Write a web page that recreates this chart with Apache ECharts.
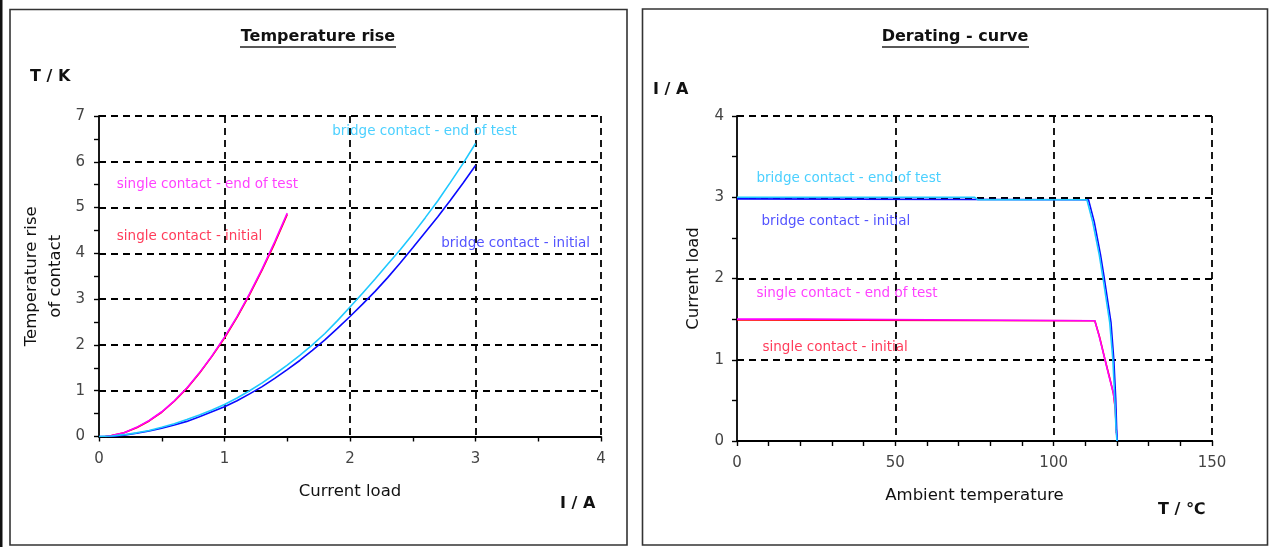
<!DOCTYPE html>
<html>
<head>
<meta charset="utf-8">
<script src="https://cdn.jsdelivr.net/npm/echarts@6/dist/echarts.min.js"></script>
<style>
html,body{margin:0;padding:0;background:#fff;}
#c{width:1271px;height:547px;}
</style>
</head>
<body>
<div id="c"></div>
<script>
// ---------- Data: Temperature rise (x: current I/A, y: temperature rise T/K) ----------
const riseSingleInitial = [[0.05,0],[0.1,0.02],[0.2,0.08],[0.3,0.19],[0.4,0.34],[0.5,0.53],[0.6,0.77],[0.7,1.05],[0.8,1.38],[0.9,1.75],[1.0,2.15],[1.1,2.60],[1.2,3.10],[1.3,3.64],[1.4,4.22],[1.5,4.85]];
const riseSingleEnd = [[0.05,0],[0.1,0.02],[0.2,0.08],[0.3,0.2],[0.4,0.35],[0.5,0.54],[0.6,0.78],[0.7,1.06],[0.8,1.39],[0.9,1.76],[1.0,2.17],[1.1,2.62],[1.2,3.12],[1.3,3.66],[1.4,4.25],[1.5,4.88]];
const riseBridgeInitial = [[0,0],[0.1,0],[0.2,0.03],[0.3,0.07],[0.4,0.12],[0.5,0.18],[0.6,0.25],[0.7,0.33],[0.8,0.43],[0.9,0.54],[1.0,0.65],[1.1,0.78],[1.2,0.93],[1.3,1.09],[1.4,1.27],[1.5,1.46],[1.6,1.66],[1.7,1.88],[1.8,2.11],[1.9,2.36],[2.0,2.62],[2.1,2.89],[2.2,3.17],[2.3,3.47],[2.4,3.79],[2.5,4.12],[2.6,4.46],[2.7,4.8],[2.8,5.16],[2.9,5.53],[3.0,5.92]];
const riseBridgeEnd = [[0,0],[0.1,0.01],[0.2,0.04],[0.3,0.08],[0.4,0.13],[0.5,0.2],[0.6,0.28],[0.7,0.37],[0.8,0.47],[0.9,0.58],[1.0,0.7],[1.1,0.84],[1.2,1.0],[1.3,1.17],[1.4,1.36],[1.5,1.56],[1.6,1.77],[1.7,2.0],[1.8,2.25],[1.9,2.53],[2.0,2.83],[2.1,3.13],[2.2,3.44],[2.3,3.76],[2.4,4.08],[2.5,4.42],[2.6,4.78],[2.7,5.15],[2.8,5.55],[2.9,5.96],[3.0,6.4]];

// ---------- Data: Derating curve (x: ambient temperature T/°C, y: current I/A) ----------
const derBridgeInitial = [[0,2.98],[111,2.97],[112.8,2.7],[114.8,2.29],[116,2.0],[118.1,1.46],[119,1.0],[119.6,0.52],[119.9,0.14],[120.1,0]];
const derBridgeEnd = [[0,3.0],[75,3.0],[76,2.97],[110.5,2.97],[112.3,2.7],[114.4,2.29],[115.6,2.0],[117.7,1.46],[118.7,1.0],[119.3,0.52],[119.7,0.14],[120,0]];
const derSingleInitial = [[0,1.49],[113,1.48],[114.5,1.28],[116.1,1.02],[117.6,0.79],[118.9,0.58],[119.5,0.38],[119.8,0.1]];
const derSingleEnd = [[0,1.5],[21,1.5],[21.5,1.48],[113,1.48],[114.3,1.30],[115.9,1.05],[117.4,0.81],[118.8,0.60],[119.5,0.40],[119.8,0.1],[120,0.05]];

// ---------- Texts ----------
const titles = ['Temperature rise', 'Derating - curve'];
const seriesNames = ['single contact - initial', 'single contact - end of test', 'bridge contact - initial', 'bridge contact - end of test'];
// annotation anchors in data units: [name, x, y]
const riseNotes = [['single contact - end of test',0.146,5.49],['single contact - initial',0.146,4.36],['bridge contact - end of test',1.862,6.64],['bridge contact - initial',2.731,4.20]];
const derNotes = [['bridge contact - end of test',6.3,3.23],['bridge contact - initial',7.9,2.69],['single contact - end of test',6.3,1.81],['single contact - initial',8.2,1.15]];

const lineColors = {'single contact - initial':'#ff0000','single contact - end of test':'#ff00ff','bridge contact - initial':'#0a0aff','bridge contact - end of test':'#1ec8ff'};
const textColors = {'single contact - initial':'#ff0a30','single contact - end of test':'#ff10ff','bridge contact - initial':'#2828ff','bridge contact - end of test':'#1ec4ff'};

const FONT = 'DejaVu Sans';
const chart = echarts.init(document.getElementById('c'), null, {renderer:'canvas'});

function valueAxis(gridIndex, min, max, interval, minorSplit, extra){
  return Object.assign({
    type:'value', gridIndex, min, max, interval,
    axisLine:{show:true, onZero:false, lineStyle:{color:'#000', width:1.8}},
    axisTick:{show:true, length:5, lineStyle:{color:'#000', width:1.4}},
    minorTick:{show:true, splitNumber:minorSplit, length:5, lineStyle:{color:'#000', width:1.4}},
    splitLine:{show:true, showMinLine:false, lineStyle:{color:'#000', width:1.8, type:[7,5]}},
    axisLabel:{color:'#444', fontSize:15, fontFamily:FONT},
    nameTextStyle:{color:'#111', fontSize:16.5, fontFamily:FONT}
  }, extra);
}

function lineSeries(name, data, xi){
  return {type:'line', name, data, xAxisIndex:xi, yAxisIndex:xi, showSymbol:false, symbol:'none',
    lineStyle:{color:lineColors[name], width:1.6}, itemStyle:{color:lineColors[name]}, silent:true, z:3};
}
function noteSeries(notes, xi){
  return {type:'scatter', xAxisIndex:xi, yAxisIndex:xi, symbolSize:1, silent:true, z:5,
    itemStyle:{color:'transparent'},
    data: notes.map(n => ({value:[n[1], n[2]], label:{show:true, formatter:n[0], position:[0,0], align:'left', verticalAlign:'middle', color:textColors[n[0]], fontSize:13.5, fontFamily:FONT}}))};
}

const option = {
  animation:false,
  backgroundColor:'#fff',
  textStyle:{fontFamily:FONT},
  grid:[
    {left:99, top:116, width:502, height:320.5},
    {left:737, top:116, width:475, height:325}
  ],
  xAxis:[
    valueAxis(0, 0, 4, 1, 2, {axisLabel:{color:'#444', fontSize:15, fontFamily:FONT, margin:15}, name:'Current load', nameLocation:'middle', nameGap:47}),
    valueAxis(1, 0, 150, 50, 5, {axisLabel:{color:'#444', fontSize:15, fontFamily:FONT, margin:15}, name:'Ambient temperature', nameLocation:'middle', nameGap:46})
  ],
  yAxis:[
    valueAxis(0, 0, 7, 1, 2, {axisLabel:{color:'#444', fontSize:15, fontFamily:FONT, margin:14}, name:'Temperature rise\nof contact', nameLocation:'middle', nameGap:31, nameTextStyle:{color:'#111', fontSize:16.5, fontFamily:FONT, lineHeight:24}}),
    valueAxis(1, 0, 4, 1, 2, {axisLabel:{color:'#444', fontSize:15, fontFamily:FONT, margin:13}, name:'Current load', nameLocation:'middle', nameGap:33, nameTextStyle:{color:'#111', fontSize:16.5, fontFamily:FONT, lineHeight:20}})
  ],
  series:[
    lineSeries(seriesNames[0], riseSingleInitial, 0),
    lineSeries(seriesNames[1], riseSingleEnd, 0),
    lineSeries(seriesNames[2], riseBridgeInitial, 0),
    lineSeries(seriesNames[3], riseBridgeEnd, 0),
    lineSeries(seriesNames[0], derSingleInitial, 1),
    lineSeries(seriesNames[1], derSingleEnd, 1),
    lineSeries(seriesNames[2], derBridgeInitial, 1),
    lineSeries(seriesNames[3], derBridgeEnd, 1),
    noteSeries(riseNotes, 0),
    noteSeries(derNotes, 1)
  ],
  graphic:[
    {type:'rect', shape:{x:0, y:0, width:2.5, height:547}, style:{fill:'#111'}, silent:true},
    {type:'rect', shape:{x:10, y:9.5, width:617, height:535.5}, style:{fill:'none', stroke:'#333', lineWidth:1.6}, silent:true},
    {type:'rect', shape:{x:642.5, y:9, width:625, height:536}, style:{fill:'none', stroke:'#333', lineWidth:1.6}, silent:true},
    {type:'text', x:318, y:37, style:{text:titles[0], fill:'#111', font:'bold 16px "DejaVu Sans"', textAlign:'center', textVerticalAlign:'middle'}, silent:true},
    {type:'line', shape:{x1:240, y1:47, x2:396, y2:47}, style:{stroke:'#222', lineWidth:1.6}, silent:true},
    {type:'text', x:955, y:37, style:{text:titles[1], fill:'#111', font:'bold 16px "DejaVu Sans"', textAlign:'center', textVerticalAlign:'middle'}, silent:true},
    {type:'line', shape:{x1:882, y1:47, x2:1029, y2:47}, style:{stroke:'#222', lineWidth:1.6}, silent:true},
    {type:'text', x:30, y:77, style:{text:'T / K', fill:'#111', font:'bold 16px "DejaVu Sans"', textAlign:'left', textVerticalAlign:'middle'}, silent:true},
    {type:'text', x:560, y:504, style:{text:'I / A', fill:'#111', font:'bold 16px "DejaVu Sans"', textAlign:'left', textVerticalAlign:'middle'}, silent:true},
    {type:'text', x:653, y:90, style:{text:'I / A', fill:'#111', font:'bold 16px "DejaVu Sans"', textAlign:'left', textVerticalAlign:'middle'}, silent:true},
    {type:'text', x:1158, y:510, style:{text:'T / \u2103', fill:'#111', font:'bold 16px "DejaVu Sans"', textAlign:'left', textVerticalAlign:'middle'}, silent:true}
  ]
};
chart.setOption(option);
</script>
</body>
</html>
